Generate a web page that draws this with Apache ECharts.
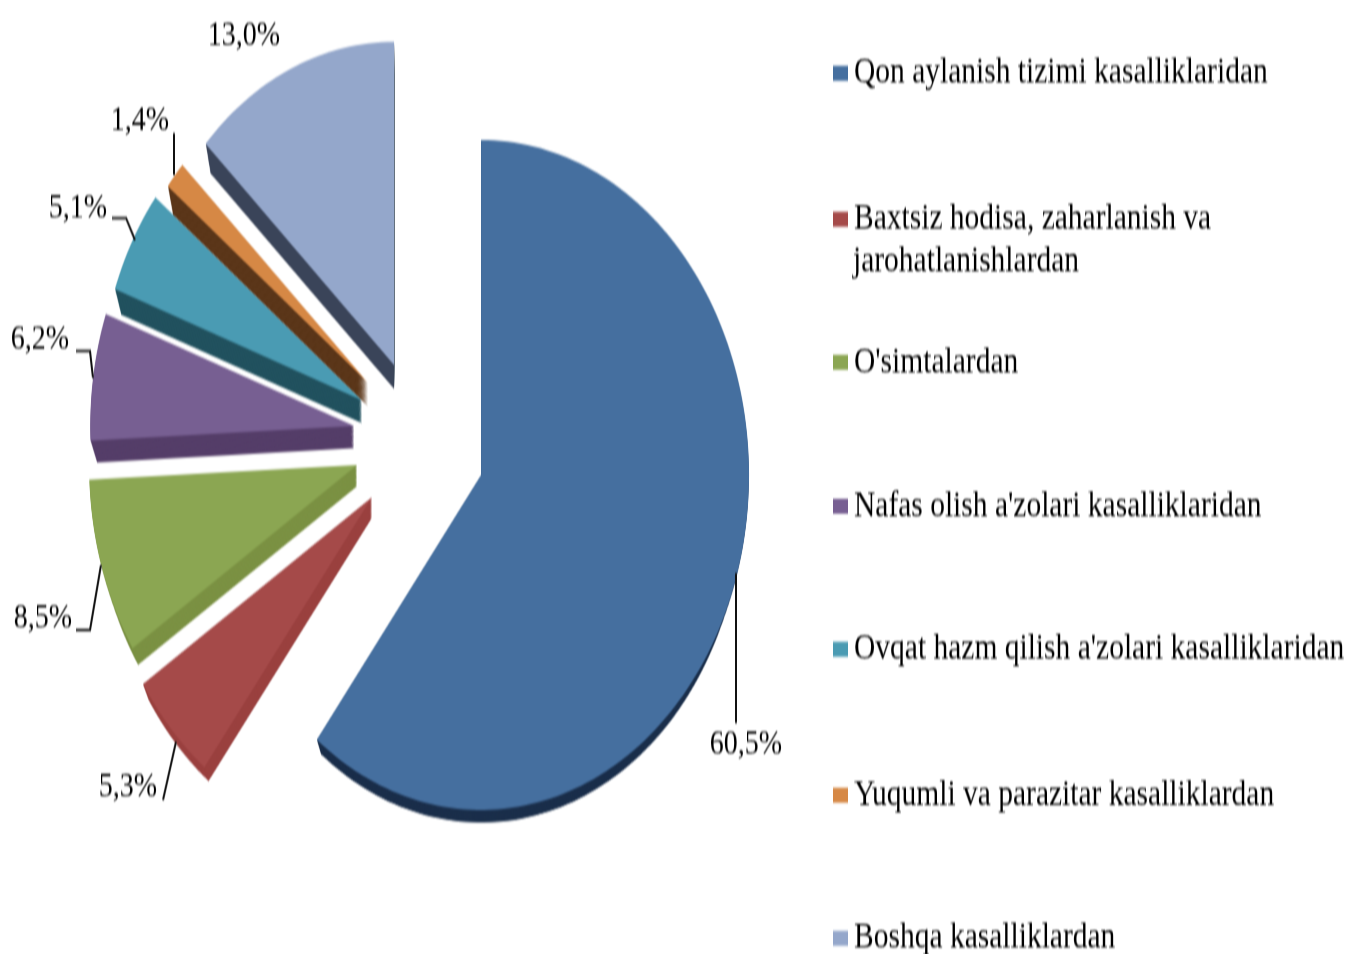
<!DOCTYPE html>
<html lang="en">
<head>
    <meta charset="UTF-8">
    <title>Kasalliklar</title>
    <script src="https://cdn.jsdelivr.net/npm/echarts@6/dist/echarts.min.js"></script>
    <style>
        html, body { margin: 0; padding: 0; background: #fff; width: 1349px; height: 954px; overflow: hidden; }
        /* the original picture is stretched vertically, text and pie alike */
        #main { width: 1349px; height: 764px; transform-origin: 0 0; transform: scaleY(1.25); filter: blur(0.7px); }
    </style>
</head>
<body>
<div id="main"></div>
<script type="text/javascript">
    var categories = [
        'Qon aylanish tizimi kasalliklaridan',
        'Baxtsiz hodisa, zaharlanish va',
        "O'simtalardan",
        "Nafas olish a'zolari kasalliklaridan",
        "Ovqat hazm qilish a'zolari kasalliklaridan",
        'Yuqumli va parazitar kasalliklardan',
        'Boshqa kasalliklardan'
    ];
    var categorySecondLine = 'jarohatlanishlardan';
    var values = [60.5, 5.3, 8.5, 6.2, 5.1, 1.4, 13.0];
    var labels = ['60,5%', '5,3%', '8,5%', '6,2%', '5,1%', '1,4%', '13,0%'];

    var topColors = ['#456f9f', '#a54a49', '#8ba652', '#775f92', '#4a9bb3', '#d68845', '#94a7cb'];
    var sideColors = ['#1b2f4b', '#9a403f', '#7b9143', '#553e69', '#22525f', '#5b3619', '#3a4459'];

    // sizes below are given in picture pixels, stretch turns y into canvas units
    var stretch = 1.25;
    var radius = 268, explode = 64, cx = 420, cy = 445;
    var depth = 21, shrink = 0.025, vanishX = 482, vanishY = 475;
    var nudge = [[0.5, 4], [-1, -2], [-2, -4.5], [-2.5, -7], [-2, -6], [-3.5, -10], [-0.5, -6.5]];
    var radiusScale = [1, 1.02, 1, 0.985, 0.98, 0.95, 0.965];
    var legendY = [72, 218, 361, 505, 648, 794, 937];
    var labelAt = [[746, 744], [128, 787], [43, 618], [40, 340], [78, 208], [140, 121], [244, 36]];
    var leaders = [
        [[736, 723], [736, 573]],
        [[163, 800], [176, 742]],
        [[76, 630], [90, 630], [101, 565]],
        [[76, 351], [90, 351], [93, 378]],
        [[112, 218], [126, 218], [135, 240]],
        [[174, 133], [174, 175]],
        []
    ];

    var total = values.reduce(function (a, b) { return a + b; }, 0);

    function slicePoints(from, to, ox, oy, r) {
        // angles run clockwise from 12 o'clock, in radians
        var pts = [[ox, oy]];
        var n = Math.max(4, Math.ceil((to - from) * 40));
        for (var i = 0; i <= n; i++) {
            var a = from + (to - from) * i / n;
            pts.push([ox + r * Math.sin(a), oy - r * Math.cos(a)]);
        }
        return pts;
    }

    function makeRenderItem(index, from, to) {
        return function (params, api) {
            var mid = (from + to) / 2;
            var ox = cx + nudge[index][0] + explode * Math.sin(mid);
            var oy = (cy + nudge[index][1]) / stretch - explode * Math.cos(mid);
            var pts = slicePoints(from, to, ox, oy, radius * radiusScale[index]);
            var pullX = Math.min(vanishX, ox);
            var children = [];
            // side wall: the slice copied downwards and slightly smaller, as in a perspective view
            for (var d = depth; d > 0; d -= 1) {
                var t = shrink * d / depth;
                children.push({
                    type: 'polygon',
                    shape: {
                        points: pts.map(function (p) {
                            return [p[0] + (pullX - p[0]) * t, p[1] + (vanishY / stretch - p[1]) * t + d / stretch];
                        })
                    },
                    style: { fill: sideColors[index] }
                });
            }
            children.push({
                type: 'polygon',
                shape: { points: pts },
                style: { fill: topColors[index] }
            });
            if (leaders[index].length) {
                children.push({
                    type: 'polyline',
                    shape: { points: leaders[index].map(function (p) { return [p[0], p[1] / stretch]; }) },
                    style: { fill: null, stroke: '#111', lineWidth: 2 }
                });
            }
            children.push({
                type: 'text',
                x: labelAt[index][0],
                y: labelAt[index][1] / stretch,
                style: {
                    text: labels[index],
                    fontFamily: 'Liberation Serif',
                    fontSize: 28,
                    fill: '#000',
                    align: 'center',
                    verticalAlign: 'middle'
                }
            });
            return { type: 'group', children: children };
        };
    }

    var series = [];
    var legends = [];
    var start = 0;
    categories.forEach(function (name, i) {
        var end = start + values[i] / total * Math.PI * 2;
        series.push({
            type: 'custom',
            name: name,
            coordinateSystem: 'none',
            color: topColors[i],
            silent: true,
            animation: false,
            data: [values[i]],
            renderItem: makeRenderItem(i, start, end)
        });
        legends.push({
            data: [name],
            orient: 'vertical',
            left: 828,
            top: legendY[i] / stretch - 19,
            icon: 'rect',
            itemWidth: 15,
            itemHeight: 12,
            itemGap: 0,
            selectedMode: false,
            textStyle: { fontFamily: 'Liberation Serif', fontSize: 29.5, color: '#000', padding: [0, 0, 0, 1] }
        });
        start = end;
    });

    var myChart = echarts.init(document.getElementById('main'));
    myChart.setOption({
        animation: false,
        backgroundColor: '#fff',
        legend: legends,
        graphic: [{
            type: 'text',
            x: 853,
            y: 261 / stretch,
            style: {
                text: categorySecondLine,
                fontFamily: 'Liberation Serif',
                fontSize: 29.5,
                fill: '#000',
                verticalAlign: 'middle'
            }
        }],
        series: series
    });
</script>
</body>
</html>
